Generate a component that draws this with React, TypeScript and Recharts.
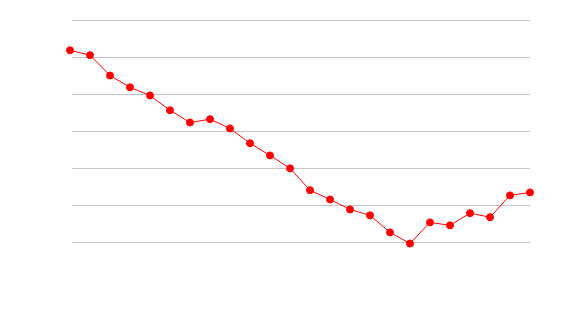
import React from "react";
import { LineChart, Line, XAxis, YAxis, CartesianGrid } from "recharts";

const categories = [
  "1", "2", "3", "4", "5", "6", "7", "8", "9", "10", "11", "12",
  "13", "14", "15", "16", "17", "18", "19", "20", "21", "22", "23", "24",
];
const values = [
  6.18, 6.05, 5.5, 5.18, 4.96, 4.56, 4.23, 4.32, 4.07, 3.67, 3.34, 2.99,
  2.4, 2.15, 1.88, 1.72, 1.26, 0.96, 1.53, 1.45, 1.78, 1.67, 2.26, 2.34,
];
const yTicks = [1, 2, 3, 4, 5, 6, 7];
const yDomain: [number, number] = [0, 7];

const data = categories.map((c, i) => ({ name: c, value: values[i] }));

export default function App() {
  return (
    <div style={{ position: "absolute", left: 0, top: 0, background: "#fff" }}>
      <LineChart
        width={570}
        height={320}
        data={data}
        margin={{ top: 20, right: 40, bottom: 41, left: 70 }}
      >
        <CartesianGrid
          vertical={false}
          horizontal={true}
          stroke="#c4c4c4"
          strokeWidth={1}
          x={72}
          width={458}
          horizontalCoordinatesGenerator={({ offset }: any) =>
            yTicks.map(
              (t) =>
                offset.top +
                0.5 +
                ((yDomain[1] - t) / (yDomain[1] - yDomain[0])) * offset.height
            )
          }
        />
        <XAxis dataKey="name" hide />
        <YAxis hide domain={yDomain} ticks={yTicks} />
        <Line
          type="linear"
          dataKey="value"
          stroke="#ff0000"
          strokeWidth={1}
          dot={{ r: 3.5, fill: "#ff0000", stroke: "#ff0000", strokeWidth: 1 }}
          isAnimationActive={false}
        />
      </LineChart>
    </div>
  );
}
